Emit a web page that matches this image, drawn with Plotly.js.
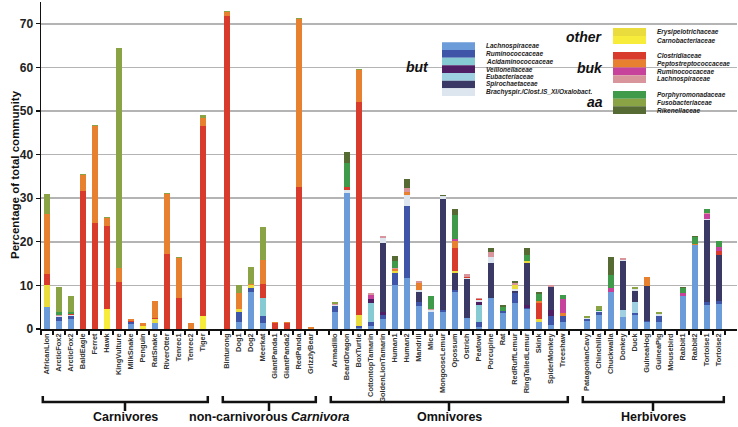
<!DOCTYPE html>
<html><head><meta charset="utf-8">
<script src="https://cdn.plot.ly/plotly-3.0.1.min.js"></script>
<style>html,body{margin:0;padding:0;background:#fff}</style>
</head><body><div id="chart" style="width:738px;height:427px"></div>
<script>
// ---- categories ----
const groupNames = ["Carnivores", "non-carnivorous <i>Carnivora</i>", "Omnivores", "Herbivores"];
const carnivores = ["AfricanLion","ArcticFox2","ArcticFox2","BaldEagle","Ferret","Hawk","KingVulture","MilkSnake","Penguin","RatSnake","RiverOtter","Tenrec1","Tenrec2","Tiger"];
const nonCarnivora = ["Binturong","Dog1","Dog2","Meerkat","GiantPanda1","GiantPanda2","RedPanda","GrizzlyBear"];
const omnivores = ["Armadillo","BeardDragon","BoxTurtle","CottontopTamarin","GoldenLionTamarin","Human1","Human2","Mandrill","Mice","MongooseLemur","Opossum","Ostrich","Peafowl","Porcupine","Rat","RedRuffLemur","RingTailedLemur","Skink","SpiderMonkey","Treeshaw"];
const herbivores = ["PatagonianCavy","Chinchilla","Chuckwalla","Donkey","Duck","GuineaHog","GuineaPig","Mousebird","Rabbit1","Rabbit2","Tortoise1","Tortoise2"];

// ---- series (percent of total community), order: carnivores | non-carnivorous Carnivora | omnivores | herbivores ----
const lachnospiraceae = [5.0,1.9,2.3,0,0,0,0,1.2,0,1.4,0,0,0,0, 0,1.5,8.6,1.4,0,0,0,0, 3.8,31.3,0.3,0.7,2.3,10.1,11.7,5.3,4.0,4.0,8.4,2.6,0.5,7.2,3.7,5.9,4.6,1.6,1.0,1.7, 1.8,3.3,8.6,2.7,3.3,1.5,1.5,0,7.5,19.3,5.6,5.8];
const ruminococcaceae = [0,0.75,0.6,0,0,0,0,0.3,0,0,0,0,0,0, 0,2.5,0.9,1.5,0,0,0,0, 1.4,0,0.5,0.8,0.8,2.7,16.4,1.0,0,0.3,0.6,0,1.0,0,0.5,2.3,0.3,0,1.9,1.2, 0.4,0.5,0,0,0.4,0.4,1.5,0,0,0,0.5,0.7];
const acidaminococcaceae = [0,0,0,0,0,0,0,0,0,0,0,0,0,0, 0,0,0,4.2,0,0,0,0, 0,0,0,4.4,0,0,0,0,0,0,0,0,4.1,0,0,0,0,0,0,0, 0,0,0,0,0,0,0,0,0,0,0,0];
const veillonellaceae = [0,0,0,0,0,0,0,0,0,0,0,0,0,0, 0,0,0,0,0,0,0,0, 0,0,0,1.0,0.9,0,0,0,0,0,0,0,0.7,0,0,0,0.5,0,1.5,0, 0,0,0,0,0,0,0,0,0,0,0,0];
const eubacteriaceae = [0,0,0,0,0,0,0,0,0,0,0,0,0,0, 0,0,0,0,0,0,0,0, 0,0,0,0,0,0,0,0,0,0,0,0,0,0,0,0,0,0,0,0, 0,0,0,1.6,2.6,0,0,0,0,0,0,0];
const spirochaetaceae = [0,0,0,0,0,0,0,0,0,0,0,0,0,0, 0,0,0,0,0,0,0,0, 0,0,0,0,15.8,0,0,2.3,0,25.6,3.9,8.8,0,8.0,0,0.6,9.8,0,5.2,0, 0,0,0,11.2,2.5,8.0,0,0,0,0,18.9,10.5];
const brachyspira = [0,0.35,0.3,0,0,0,0,0,0,0,0,0,0,0, 0,0,0,0,0,0,0,0, 0.3,0.6,0,0,1.0,0,2.6,0.3,0.3,0.6,0,0.3,0.3,1.3,0,0.3,0,0,0,0, 0.4,0.3,0,0.3,0.3,0,0.4,0,0,0,0.3,0];
const erysipelotrichaceae = [5.1,0,0,0,0,0,0,0,0,0.8,0,0,0,0, 0,0.5,0.5,0,0,0,0,0, 0,0,2.4,0,0,0.4,0,0,0,0,0.4,0,0,0,0,0.9,0.4,0.7,0,0, 0,0,0,0,0,0,0,0,0,0,0,0];
const carnobacteriaceae = [0,0,0,0,0,4.6,0,0,0.7,0,0,0,0,3.0, 0,0,0,0,0,0,0,0, 0,0,0,0,0,0,0,0,0,0,0,0,0,0,0,0,0,0,0,0, 0,0,0,0,0,0,0,0,0,0,0,0];
const clostridiaceae = [2.6,0,0.3,31.7,24.4,19.0,10.7,0.3,0.1,0.3,17.2,7.0,0,43.6, 71.7,0,0,3.3,1.4,1.4,32.6,0, 0,0.7,48.9,0,0,0,0,0,0,0,5.2,0.3,0.2,0,0,0,0,3.6,0,0, 0,0,0,0,0,0,0,0,0,0,0,0.8];
const peptostreptococcaceae = [13.6,0,0,3.6,22.2,1.8,3.2,0.4,0.5,3.9,13.8,9.3,1.3,1.8, 0.9,3.7,0.4,5.5,0.15,0.15,38.6,0.5, 0,0,7.4,0,0,0.5,0.7,1.6,0,0,1.7,0,0,0,0,0,0,0.6,0,0.8, 0,0,0,0,0,2.1,0,0,0,0.3,0,0];
const ruminococcaceaeBuk = [0,0,0,0,0,0,0,0,0,0,0,0,0,0, 0,0,0,0,0,0,0,0, 0,0,0,1.0,0,0,0,0,0,0,0.4,0,0,0,0,0,0,0,0,3.2, 0,0,0.8,0,0,0,0,0,0.7,0,1.0,1.1];
const lachnospiraceaeBuk = [0,0.3,0,0,0,0,0,0,0,0,0,0,0,0, 0,0,0,0,0,0,0,0, 0.3,0,0,0.3,0.5,0.4,0.9,0.6,0.4,0,0,0.6,0.4,1.1,0,0.5,0,0,0.5,0, 0,0,0,0.4,0,0,0,0,0,0,0.3,0];
const porphyromonadaceae = [0,0.5,0.4,0,0,0,0,0,0,0,0,0,0,0, 0,0,0,0,0,0,0,0, 0,5.4,0,0,0,1.5,0,0,2.9,0,5.6,0,0,0,0.8,0,1.4,1.5,0,0.9, 0,0.3,3.0,0,0,0,0,0,1.2,1.5,0.9,1.3];
const fusobacteriaceae = [4.7,5.9,3.6,0.3,0.3,0.2,50.6,0.2,0,0.1,0.2,0.3,0,0.7, 0.3,1.9,3.9,7.4,0,0,0.2,0, 0.4,0,0.2,0,0,0,0,0,0,0,0,0,0,0,0,0,0,0,0,0, 0.3,0.9,0,0,0.6,0,0.4,0,0,0,0,0];
const rikenellaceae = [0,0,0,0,0,0,0,0,0,0,0,0,0,0, 0,0,0,0,0,0,0,0, 0,2.6,0,0,0,1.2,2.0,0,0,0.3,1.3,0,0,0.9,0.5,0.5,1.5,0.6,0,0, 0,0,4.1,0,0,0,0,0,0.3,0.3,0,0];

const seriesNames = ["Lachnospiraceae","Ruminococcaceae","Acidaminococcaceae","Veillonellaceae","Eubacteriaceae","Spirochaetaceae","Brachyspir./Clost.IS_XI/Oxalobact.",
  "Erysipelotrichaceae","Carnobacteriaceae",
  "Clostridiaceae","Peptostreptococcaceae","Ruminococcaceae","Lachnospiraceae",
  "Porphyromonadaceae","Fusobacteriaceae","Rikenellaceae"];
const seriesValues = [lachnospiraceae,ruminococcaceae,acidaminococcaceae,veillonellaceae,eubacteriaceae,spirochaetaceae,brachyspira,
  erysipelotrichaceae,carnobacteriaceae,
  clostridiaceae,peptostreptococcaceae,ruminococcaceaeBuk,lachnospiraceaeBuk,
  porphyromonadaceae,fusobacteriaceae,rikenellaceae];
const seriesColors = ["#6b9bd8","#3e55a8","#86cbd4","#4f1f66","#9fd0e2","#3a3965","#dde5ef",
  "#e9dc3c","#f7ec3a",
  "#d83a2b","#e8812f","#c7439b","#d8959c",
  "#3f9a4a","#8aa345","#566a33"];
const legendGroups = [{title:"but", idx:[0,1,2,3,4,5,6]},{title:"other", idx:[7,8]},{title:"buk", idx:[9,10,11,12]},{title:"aa", idx:[13,14,15]}];

// ---- positions ----
const groups = [carnivores, nonCarnivora, omnivores, herbivores];
const xPos = [], labels = [], spans = [];
let off = 0;
groups.forEach(g => {
  const s = off;
  g.forEach((n, i) => { xPos.push(off + i); labels.push(n); });
  spans.push([s, off + g.length - 1]);
  off += g.length + 1;
});
const nSlots = off - 1;
const boundaries = [];
for (let k = -1; k < nSlots; k++) boundaries.push(k + 0.5);

const FONT = "'Liberation Sans', Arial, sans-serif";

const traces = seriesValues.map((v, i) => ({
  type: 'bar', x: xPos, y: v, name: seriesNames[i],
  marker: {color: seriesColors[i], line: {width: 0}},
  width: 0.45, showlegend: false, hoverinfo: 'skip'
}));

// pixel helpers for legend placement (plot area 41..737 x 2..329)
const L = 41, W = 696, T = 2, H = 327;
const px = p => (p - L) / W;
const py = p => 1 - (p - T) / H;

const shapes = [];
const annotations = [];

// white covers for gridlines under the legend
shapes.push({type:'rect', xref:'paper', yref:'y', x0:px(405), x1:1.01, y0:58.5, y1:61.5, fillcolor:'#fff', line:{width:0}, layer:'between'});
shapes.push({type:'rect', xref:'paper', yref:'y', x0:px(583), x1:1.01, y0:48.5, y1:51.5, fillcolor:'#fff', line:{width:0}, layer:'between'});

function swatchBlock(grp, x0, x1, top, h, labelX) {
  grp.idx.forEach((si, k) => {
    const a = top + h * k, b = top + h * (k + 1);
    shapes.push({type:'rect', xref:'paper', yref:'paper', x0:px(x0), x1:px(x1), y0:py(b), y1:py(a), fillcolor:seriesColors[si], line:{width:0}});
    annotations.push({xref:'paper', yref:'paper', x:px(labelX), y:py((a+b)/2), text:'<b><i>'+seriesNames[si]+'</i></b>', showarrow:false, xanchor:'left', yanchor:'middle', font:{family:FONT, size:6.5, color:'#222'}});
  });
}
swatchBlock(legendGroups[0], 442, 475, 42.3, 7.67, 484);
swatchBlock(legendGroups[1], 613, 646, 28, 8, 655);
swatchBlock(legendGroups[2], 613, 646, 52, 7.75, 655);
swatchBlock(legendGroups[3], 613, 646, 91, 7.67, 655);
[[legendGroups[0].title, 431, 67], [legendGroups[1].title, 605, 37], [legendGroups[2].title, 605, 68], [legendGroups[3].title, 605, 102]].forEach(t => {
  annotations.push({xref:'paper', yref:'paper', x:px(t[1]), y:py(t[2]), text:'<b><i>'+t[0]+'</i></b>', showarrow:false, xanchor:'right', yanchor:'middle', font:{family:FONT, size:14, color:'#111'}});
});

// group brackets and labels
const yb = -(402 - 329) / H, yt = -(396 - 329) / H, yc = -(411 - 329) / H, yl = -(417 - 329) / H;
spans.forEach((s, i) => {
  const a = s[0] - 0.35, b = s[1] + 0.4, c = (s[0] + s[1]) / 2;
  shapes.push({type:'path', xref:'x', yref:'paper', path:`M${a},${yt} L${a},${yb} L${b},${yb} L${b},${yt} M${c},${yb} L${c},${yc}`, line:{color:'#111', width:2.5}});
  annotations.push({xref:'x', yref:'paper', x:c, y:yl, text:'<b>'+groupNames[i]+'</b>', showarrow:false, xanchor:'center', yanchor:'middle', font:{family:FONT, size:12.5, color:'#111'}});
});

annotations.push({xref:'paper', yref:'paper', x:px(15), y:py(175), text:'<b>Percentage of total community</b>', textangle:-90, showarrow:false, xanchor:'center', yanchor:'middle', font:{family:FONT, size:11.5, color:'#111'}});

const layout = {
  width: 738, height: 427,
  margin: {l: L, r: 738 - L - W, t: T, b: 427 - T - H},
  paper_bgcolor: '#fff', plot_bgcolor: '#fff',
  barmode: 'stack', bargap: 0,
  showlegend: false,
  xaxis: {
    range: [-0.5, nSlots + 0.5], tickmode: 'array', tickvals: xPos, ticktext: labels,
    tickangle: -90, ticks: '', showgrid: false, zeroline: false,
    showline: true, linecolor: '#111', linewidth: 1.5,
    tickfont: {family: FONT, size: 7.4, color: '#333', weight: 700},
    minor: {tickmode: 'array', tickvals: boundaries, ticks: 'outside', ticklen: 4, tickcolor: '#111', tickwidth: 1.2, showgrid: false},
    automargin: false,
    fixedrange: true
  },
  yaxis: {
    range: [0, 75], tickmode: 'array', tickvals: [0,10,20,30,40,50,60,70],
    ticks: 'outside', ticklen: 4, tickcolor: '#111', tickwidth: 1.2,
    showgrid: true, gridcolor: '#b4b4b4', gridwidth: 1.5, zeroline: false,
    showline: true, linecolor: '#111', linewidth: 1.5,
    tickfont: {family: FONT, size: 12, color: '#222', weight: 700},
    automargin: false,
    fixedrange: true
  },
  shapes: shapes,
  annotations: annotations
};

Plotly.newPlot('chart', traces, layout, {staticPlot: true, displayModeBar: false});
</script></body></html>
